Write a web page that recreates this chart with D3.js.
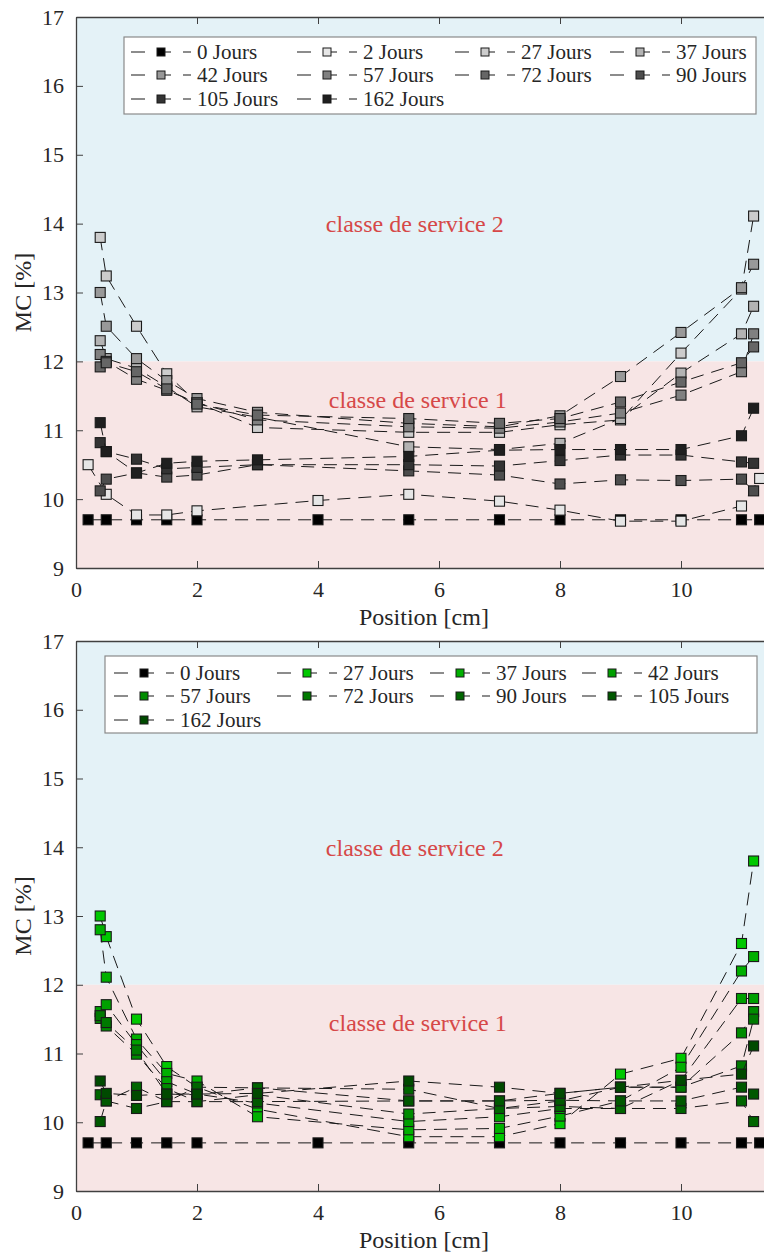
<!DOCTYPE html>
<html><head><meta charset="utf-8">
<script src="https://cdn.jsdelivr.net/npm/d3@7"></script>
<style>
body{margin:0;background:#fff}
svg{display:block}
</style>
</head><body>
<svg id="chart" width="764" height="1258" font-family="'Liberation Serif', serif"></svg>
<script>
// ---------- data ----------
const positions    = [0.4, 0.5, 1, 1.5, 2, 3, 5.5, 7, 8, 9, 10, 11, 11.2];
const refPositions = [0.2, 0.5, 1, 1.5, 2, 4, 5.5, 7, 8, 9, 10, 11, 11.3];
const yTicks = [9, 10, 11, 12, 13, 14, 15, 16, 17];
const xTicks = [0, 2, 4, 6, 8, 10];

// top panel (grey)
const top0   = [9.7, 9.7, 9.7, 9.7, 9.7, 9.7, 9.7, 9.7, 9.7, 9.7, 9.7, 9.7, 9.7];
const top2   = [10.5, 10.07, 9.77, 9.77, 9.83, 9.98, 10.07, 9.97, 9.84, 9.68, 9.68, 9.9, 10.3];
const top27  = [13.8, 13.24, 12.51, 11.82, 11.40, 11.04, 10.97, 10.97, 11.08, 11.15, 12.12, 13.05, 14.11];
const top37  = [12.3, 12.04, 11.90, 11.63, 11.34, 11.19, 10.76, 10.72, 10.81, 11.17, 11.83, 12.40, 12.80];
const top42  = [13.0, 12.51, 12.04, 11.72, 11.46, 11.26, 11.10, 11.05, 11.21, 11.78, 12.42, 13.07, 13.41];
const top57  = [12.1, 12.0, 11.74, 11.58, 11.40, 11.15, 11.05, 11.03, 11.12, 11.25, 11.51, 11.85, 12.40];
const top72  = [11.92, 11.98, 11.85, 11.60, 11.38, 11.22, 11.17, 11.10, 11.17, 11.41, 11.70, 11.98, 12.21];
const top90  = [10.12, 10.29, 10.38, 10.32, 10.35, 10.50, 10.41, 10.35, 10.22, 10.28, 10.27, 10.29, 10.12];
const top105 = [10.82, 10.69, 10.58, 10.44, 10.46, 10.50, 10.50, 10.48, 10.56, 10.64, 10.64, 10.54, 10.52];
const top162 = [11.11, 10.69, 10.38, 10.52, 10.55, 10.57, 10.62, 10.71, 10.72, 10.72, 10.72, 10.92, 11.32];

// bottom panel (green)
const bot0   = [9.7, 9.7, 9.7, 9.7, 9.7, 9.7, 9.7, 9.7, 9.7, 9.7, 9.7, 9.7, 9.7];
const bot27  = [13.0, 12.7, 11.5, 10.81, 10.51, 10.19, 9.79, 9.79, 9.98, 10.70, 10.93, 12.60, 13.80];
const bot37  = [12.8, 12.11, 11.21, 10.71, 10.60, 10.08, 9.89, 9.91, 10.09, 10.31, 10.80, 12.20, 12.41];
const bot42  = [11.61, 11.71, 11.13, 10.59, 10.41, 10.28, 10.01, 10.08, 10.20, 10.20, 10.61, 11.80, 11.80];
const bot57  = [11.51, 11.40, 10.99, 10.49, 10.30, 10.40, 10.12, 10.20, 10.31, 10.51, 10.51, 11.30, 11.61];
const bot72  = [11.55, 11.45, 11.05, 10.41, 10.40, 10.50, 10.31, 10.31, 10.42, 10.51, 10.51, 10.82, 11.50];
const bot90  = [10.40, 10.31, 10.51, 10.30, 10.51, 10.50, 10.48, 10.20, 10.23, 10.20, 10.20, 10.31, 10.01];
const bot105 = [10.01, 10.31, 10.20, 10.30, 10.30, 10.30, 10.31, 10.31, 10.32, 10.31, 10.31, 10.51, 10.41];
const bot162 = [10.60, 10.42, 10.39, 10.41, 10.41, 10.42, 10.60, 10.51, 10.42, 10.51, 10.61, 10.70, 11.11];

const topLabels = ["0 Jours","2 Jours","27 Jours","37 Jours","42 Jours","57 Jours","72 Jours","90 Jours","105 Jours","162 Jours"];
const botLabels = ["0 Jours","27 Jours","37 Jours","42 Jours","57 Jours","72 Jours","90 Jours","105 Jours","162 Jours"];
const topColors = ["#000000","#e6e6e6","#cccccc","#b3b3b3","#999999","#808080","#666666","#4d4d4d","#333333","#1f1f1f"];
const botColors = ["#000000","#00c800","#00b000","#00a000","#008c00","#007a00","#006600","#005800","#004a00"];
const zoneLabels = ["classe de service 2","classe de service 1"];

// ---------- drawing ----------
const FONT = "'Liberation Serif', serif";
const svg = d3.select("#chart");

function txt(sel, size){
  return sel.style("font-family", FONT).style("font-size", size + "px").style("fill", "#262626");
}

function drawPanel(cfg){
  const g = svg.append("g");
  const x = d3.scaleLinear().domain([0, 11.5]).range([76, 771.75]);
  const y = d3.scaleLinear().domain([9, 17]).range([cfg.bottom, cfg.top]);

  // zone backgrounds
  g.append("rect").attr("x", x(0)).attr("y", y(17)).attr("width", x(11.5)-x(0)).attr("height", y(12)-y(17)).attr("fill", "#e4f2f7");
  g.append("rect").attr("x", x(0)).attr("y", y(12)).attr("width", x(11.5)-x(0)).attr("height", y(9)-y(12)).attr("fill", "#f7e5e5");

  // zone labels
  txt(g.append("text").attr("x", x(5.6)).attr("y", y(14)).attr("dy", "0.35em").attr("text-anchor", "middle"), 24)
    .style("fill", "#d64848").text(zoneLabels[0]);
  txt(g.append("text").attr("x", x(5.65)).attr("y", y(11.45)).attr("dy", "0.35em").attr("text-anchor", "middle"), 24)
    .style("fill", "#d64848").text(zoneLabels[1]);

  // series
  const line = d3.line().x(d => x(d[0])).y(d => y(d[1]));
  cfg.series.forEach((vals, i) => {
    const pos = cfg.posFor(i);
    const pts = pos.map((p, k) => [p, vals[k]]);
    const sg = g.append("g");
    sg.append("path").attr("d", line(pts)).attr("fill", "none")
      .attr("stroke", "#1a1a1a").attr("stroke-width", 1).attr("stroke-dasharray", "13,8");
    sg.selectAll("rect").data(pts).join("rect")
      .attr("x", d => x(d[0]) - 5).attr("y", d => y(d[1]) - 5)
      .attr("width", 10).attr("height", 10)
      .attr("fill", cfg.colors[i]).attr("stroke", "#1a1a1a").attr("stroke-width", 1.1);
  });

  // axes
  const ax = g.append("g").attr("transform", `translate(0,${cfg.bottom})`)
    .call(d3.axisBottom(x).tickValues(xTicks).tickSize(-7).tickSizeOuter(0).tickPadding(13));
  const axTop = g.append("g").attr("transform", `translate(0,${cfg.top})`)
    .call(d3.axisTop(x).tickValues(xTicks).tickSize(-7).tickSizeOuter(0).tickFormat(""));
  const ay = g.append("g").attr("transform", "translate(76,0)")
    .call(d3.axisLeft(y).tickValues(yTicks).tickSize(-7).tickSizeOuter(0).tickPadding(12));
  [ax, axTop, ay].forEach(a => {
    a.attr("font-family", FONT);
    a.select(".domain").attr("stroke", "#404040").attr("stroke-width", 1.3);
    a.selectAll(".tick line").attr("stroke", "#404040").attr("stroke-width", 1);
    txt(a.selectAll(".tick text"), 22);
  });

  // axis titles
  txt(g.append("text").attr("x", (x(0)+x(11.5))/2).attr("y", cfg.bottom + 57).attr("text-anchor", "middle"), 24)
    .text("Position [cm]");
  txt(g.append("text").attr("transform", `translate(31,${(cfg.top+cfg.bottom)/2}) rotate(-90)`)
    .attr("text-anchor", "middle"), 24).text("MC [%]");

  // legend
  const L = cfg.legend;
  const lg = g.append("g");
  lg.append("rect").attr("x", L.x0).attr("y", L.y0).attr("width", L.x1-L.x0).attr("height", L.y1-L.y0)
    .attr("fill", "#fff").attr("stroke", "#8a8a8a").attr("stroke-width", 1.2);
  cfg.labels.forEach((lab, i) => {
    const col = i % 4, row = Math.floor(i / 4);
    const sx = L.cols[col], yy = L.rows[row];
    lg.append("line").attr("x1", sx).attr("x2", sx + 60).attr("y1", yy).attr("y2", yy)
      .attr("stroke", "#1a1a1a").attr("stroke-width", 1.2).attr("stroke-dasharray", "14,12");
    lg.append("rect").attr("x", sx + 26).attr("y", yy - 4).attr("width", 8).attr("height", 8)
      .attr("fill", cfg.colors[i]).attr("stroke", "#1a1a1a").attr("stroke-width", 1);
    txt(lg.append("text").attr("x", sx + 66).attr("y", yy).attr("dy", "0.35em"), 21).text(lab);
  });
}

drawPanel({
  top: 17, bottom: 568,
  series: [top0, top2, top27, top37, top42, top57, top72, top90, top105, top162],
  posFor: i => (i < 2 ? refPositions : positions),
  colors: topColors, labels: topLabels,
  legend: {x0: 124, x1: 756, y0: 37, y1: 114, cols: [131, 297, 455, 610], rows: [52, 75, 99]}
});
drawPanel({
  top: 641, bottom: 1191,
  series: [bot0, bot27, bot37, bot42, bot57, bot72, bot90, bot105, bot162],
  posFor: i => (i < 1 ? refPositions : positions),
  colors: botColors, labels: botLabels,
  legend: {x0: 105, x1: 757, y0: 656, y1: 733, cols: [114, 277, 430, 582], rows: [673, 696, 720]}
});
</script>
</body></html>
